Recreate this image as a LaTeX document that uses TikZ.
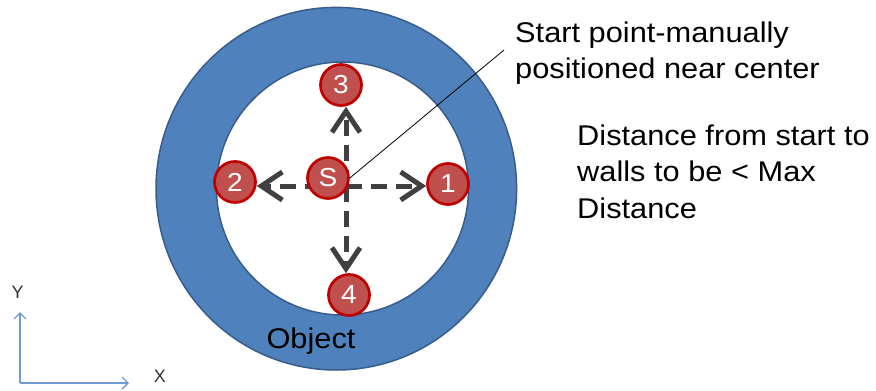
\documentclass[tikz,border=0pt]{standalone}
\usepackage{fontspec}
\setmainfont{Liberation Sans}
\newfontfamily\widesans[FakeStretch=1.08]{Liberation Sans}
\usetikzlibrary{arrows.meta}
\definecolor{ringblue}{HTML}{4F81BD}
\definecolor{ringedge}{HTML}{385D8A}
\definecolor{ptfill}{HTML}{C0504D}
\definecolor{ptedge}{HTML}{C00000}
\definecolor{arrgray}{HTML}{404040}
\definecolor{axisblue}{HTML}{6F9BD2}
\pgfdeclarelayer{back}
\pgfdeclarelayer{mid}
\pgfsetlayers{back,mid,main}
\begin{document}
\begin{tikzpicture}[x=1pt,y=-1pt,
  ptnode/.style={circle, fill=ptfill, draw=ptedge, line width=2.7pt, minimum size=41pt,
    inner sep=0pt, text=white, font=\widesans\fontsize{26}{26}\selectfont},
  dirarrow/.style={draw=arrgray, line width=5pt, dash pattern=on 16pt off 9pt,
    -{Straight Barb[length=21pt,width=28pt]}},
  bigtext/.style={font=\widesans\fontsize{28.5}{36.5}\selectfont, align=left, inner sep=0pt, text=black},
  axislabel/.style={font=\fontsize{18}{18}\selectfont, inner sep=0pt, text=black!80},
  axisline/.style={draw=axisblue, line width=1.3pt, -{Straight Barb[length=6pt,width=12pt]}},
  ring/.style={draw=ringedge, line width=1.5pt}
]
\useasboundingbox (0,0) rectangle (876,391);
\begin{pgfonlayer}{back}
  \fill[white] (0,0) rectangle (876,391);
  \draw[ring, fill=ringblue] (336.3,188.7) ellipse [x radius=180.3pt, y radius=181.3pt];
  \draw[ring, fill=white] (342.5,188.5) ellipse [x radius=126pt, y radius=126.5pt];
\end{pgfonlayer}

\node[ptnode] (S) at (328,178) {S};
\node[ptnode] (p1) at (448,184) {1};
\node[ptnode] (p2) at (235,182) {2};
\node[ptnode] (p3) at (341,85) {3};
\node[ptnode] (p4) at (349,295) {4};
\coordinate (o) at (346,186);

\begin{pgfonlayer}{mid}
  \draw[dirarrow] (o) -- (o -| p1.west);
  \draw[dirarrow] (o) -- (o -| p2.east);
  \draw[dirarrow] (o) -- (o |- p3.south);
  \draw[dirarrow] (o) -- (o |- p4.north);
\end{pgfonlayer}

\node[bigtext, anchor=north west] (start) at (515,21.3) {Start point-manually\\positioned near center};
\node[bigtext, anchor=north west] (dist) at (577,124.3) {Distance from start to\\walls to be < Max\\Distance};
\node[font=\widesans\fontsize{28.5}{28.5}\selectfont, inner sep=0pt, anchor=base] (obj) at (311,348) {Object};

\coordinate (lead) at (504,50);
\draw[black, line width=0.8pt] (S.east) -- (lead);

\coordinate (ax) at (20,383);
\coordinate (ay) at (20,312);
\coordinate (axx) at (129,383);
\draw[axisline] (ax) -- (ay);
\draw[axisline] (ax) -- (axx);
\node[axislabel] (ylab) at (17.7,292.7) {Y};
\node[axislabel] (xlab) at (160,376) {X};
\end{tikzpicture}
\end{document}
